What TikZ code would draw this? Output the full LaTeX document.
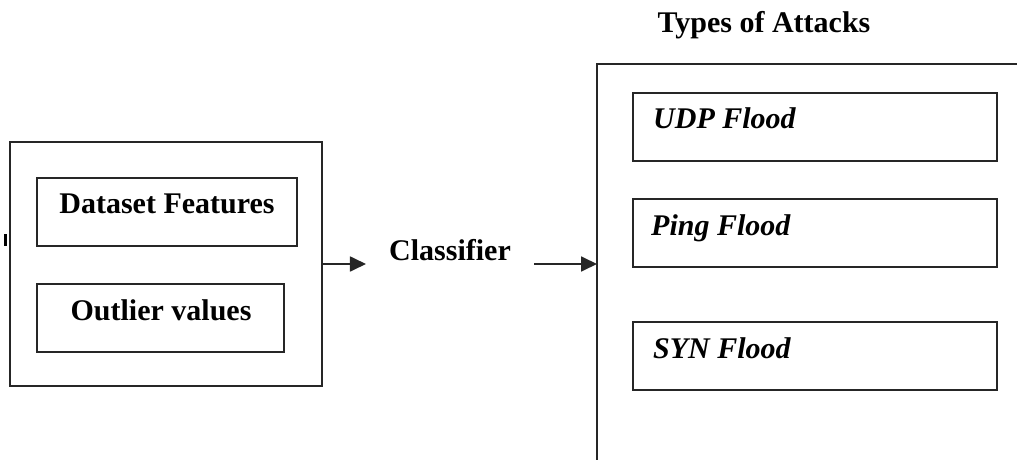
\documentclass[tikz,border=0pt]{standalone}
\usepackage{fontspec}
\setmainfont{Liberation Serif}
\usetikzlibrary{arrows.meta}
\begin{document}
\begin{tikzpicture}[x=1pt,y=-1pt,
  frame/.style={draw=black!85, line width=1.8pt, inner sep=0pt, outer sep=0pt, anchor=north west},
  lbl/.style={font=\fontsize{30}{36}\selectfont\bfseries, inner sep=0pt, anchor=base},
  ilbl/.style={font=\fontsize{30}{36}\selectfont\bfseries\itshape, inner sep=0pt, anchor=base west},
  flow/.style={draw=black!85, line width=1.8pt, -{Triangle[length=16pt,width=15pt]}}]
\useasboundingbox (0,0) rectangle (1017,460);

% input block
\node[frame, minimum width=312pt, minimum height=244pt] (inp) at (10,142) {};
\node[frame, minimum width=260pt, minimum height=68pt] (feat) at (37,178) {};
\node[frame, minimum width=247pt, minimum height=68pt] (outl) at (37,284) {};
\node[lbl] (featT) at (167,213) {Dataset Features};
\node[lbl] (outlT) at (161,320) {Outlier values};
\draw[line width=3pt, black] (5,234) -- (5,246);

% classifier
\node[lbl, inner xsep=23pt] (clf) at (450,260) {Classifier};

% attack types block
\node[lbl] (title) at (764,33) {Types of Attacks};
\node[frame, minimum width=440pt, minimum height=420pt] (attacks) at (597,64) {};
\node[frame, minimum width=364pt, minimum height=68pt] (udp) at (633,93) {};
\node[frame, minimum width=364pt, minimum height=68pt] (ping) at (633,199) {};
\node[frame, minimum width=364pt, minimum height=68pt] (syn) at (633,322) {};
\node[ilbl] (udpT) at (653,128) {UDP Flood};
\node[ilbl] (pingT) at (651,235) {Ping Flood};
\node[ilbl] (synT) at (653,358) {SYN Flood};

% flow
\draw[flow] (inp.east) -- (inp.east -| clf.west);
\draw[flow] (clf.east |- inp.east) -- (attacks.west |- inp.east);
\end{tikzpicture}
\end{document}
